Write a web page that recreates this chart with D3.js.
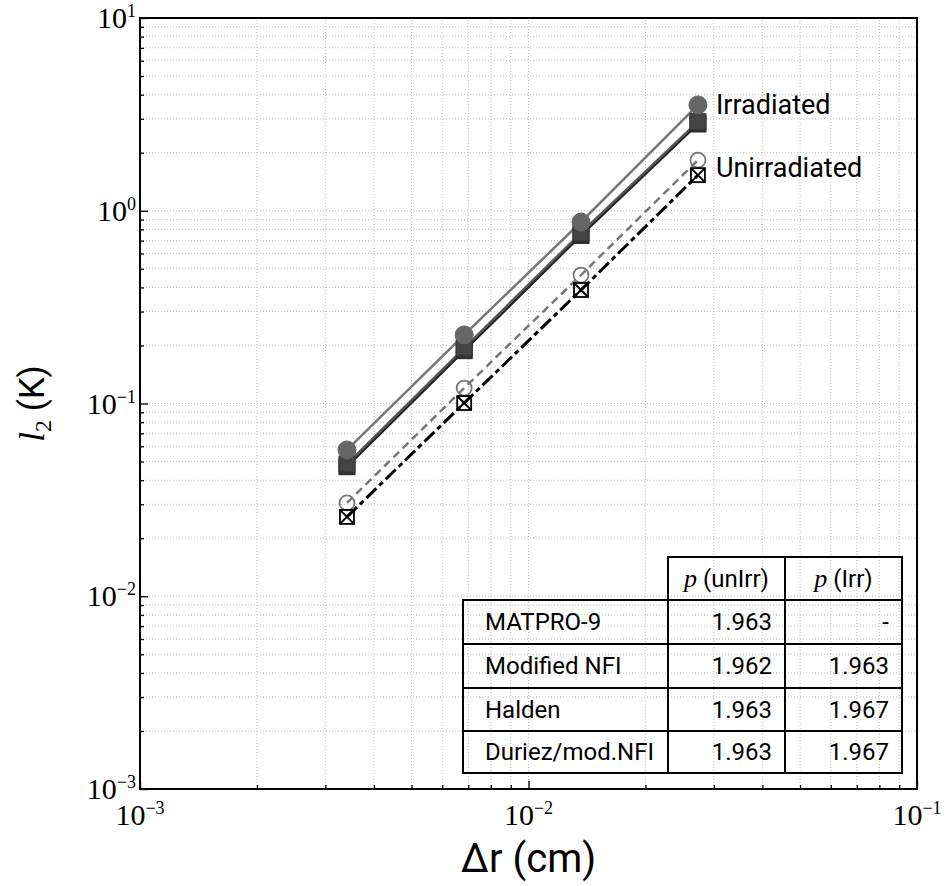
<!DOCTYPE html>
<html>
<head>
<meta charset="utf-8">
<style>
    body { margin: 0; background: #fff; }
    svg { display: block; }
    .tick-label { font-family: 'Liberation Serif', serif; fill: #000; }
    .sans { font-family: Roboto, 'DejaVu Sans', sans-serif; fill: #000; }
</style>
</head>
<body>
<svg width="947" height="886"></svg>
<script src="https://cdnjs.cloudflare.com/ajax/libs/d3/7.8.5/d3.min.js"></script>
<script>
// ---------------- data ----------------
let dr = [0.00341, 0.00683, 0.01365, 0.0273];

// irradiated series
let irrCircle  = [0.0574, 0.227, 0.874, 3.54];
let irrSquareA = [0.0485, 0.194, 0.767, 2.90];
let irrSquareB = [0.0470, 0.188, 0.745, 2.82];

// unirradiated series
let unCircle  = [0.0305, 0.1203, 0.464, 1.83];
let unSquare  = [0.0258, 0.1006, 0.388, 1.53];

let xTicks = [1e-3, 1e-2, 1e-1];
let yTicks = [1e-3, 1e-2, 1e-1, 1e0, 1e1];

let tableModels = ["MATPRO-9", "Modified NFI", "Halden", "Duriez/mod.NFI"];
let pUnirr = ["1.963", "1.962", "1.963", "1.963"];
let pIrr   = ["-", "1.963", "1.967", "1.967"];

let curveLabels = [
    {text: "Irradiated", x: 0.0273, y: 3.54},
    {text: "Unirradiated", x: 0.0273, y: 1.67}
];

// ---------------- setup ----------------
let svg = d3.select("svg");
let margins = {top: 18, right: 30, bottom: 97, left: 140};
let width = 947, height = 886;

let x = d3.scaleLog().domain([1e-3, 1e-1]).range([margins.left, width - margins.right]);
let y = d3.scaleLog().domain([1e-3, 1e1]).range([height - margins.bottom, margins.top]);

let x0 = x.range()[0], x1 = x.range()[1];
let y0 = y.range()[0], y1 = y.range()[1];

// minor tick values (all decades)
function minors(lo, hi) {
    let out = [];
    for (let e = lo; e < hi; e++) {
        for (let m = 1; m < 10; m++) out.push(m * Math.pow(10, e));
    }
    out.push(Math.pow(10, hi));
    return out;
}
let xAll = minors(-3, -1);
let yAll = minors(-3, 1);

// ---------------- grid ----------------
let grid = svg.append("g");
grid.selectAll(".gx").data(xAll.filter(d => d > 1e-3 && d < 1e-1)).join("line")
    .attr("x1", d => x(d)).attr("x2", d => x(d))
    .attr("y1", y0).attr("y2", y1)
    .attr("stroke", "#b0b0b0").attr("stroke-width", 0.8).attr("stroke-dasharray", "1,2");
grid.selectAll(".gy").data(yAll.filter(d => d > 1e-3 && d < 1e1)).join("line")
    .attr("y1", d => y(d)).attr("y2", d => y(d))
    .attr("x1", x0).attr("x2", x1)
    .attr("stroke", "#b0b0b0").attr("stroke-width", 0.8).attr("stroke-dasharray", "1,2");

// ---------------- table ----------------
let tab = svg.append("g");
let colX = [463, 668, 785, 902];
let rowY = [557, 600, 644, 688, 731, 773];
tab.append("rect").attr("x", colX[1]).attr("y", rowY[0]).attr("width", colX[3] - colX[1]).attr("height", rowY[1] - rowY[0])
    .attr("fill", "none").attr("stroke", "#000").attr("stroke-width", 2);
tab.append("line").attr("x1", colX[2]).attr("x2", colX[2]).attr("y1", rowY[0]).attr("y2", rowY[5])
    .attr("stroke", "#000").attr("stroke-width", 2);
tab.append("rect").attr("x", colX[0]).attr("y", rowY[1]).attr("width", colX[3] - colX[0]).attr("height", rowY[5] - rowY[1])
    .attr("fill", "none").attr("stroke", "#000").attr("stroke-width", 2);
tab.append("line").attr("x1", colX[1]).attr("x2", colX[1]).attr("y1", rowY[1]).attr("y2", rowY[5])
    .attr("stroke", "#000").attr("stroke-width", 2);
tab.selectAll(".rowline").data(rowY.slice(2, 5)).join("line")
    .attr("x1", colX[0]).attr("x2", colX[3]).attr("y1", d => d).attr("y2", d => d)
    .attr("stroke", "#000").attr("stroke-width", 2);

let headers = ["unIrr", "Irr"];
headers.forEach(function(h, i) {
    let t = tab.append("text").attr("class", "sans")
        .attr("x", (colX[i + 1] + colX[i + 2]) / 2).attr("y", rowY[0] + 30)
        .attr("text-anchor", "middle").attr("font-size", 24);
    t.append("tspan").attr("font-family", "Liberation Serif").attr("font-style", "italic").attr("font-size", 26).text("p");
    t.append("tspan").text(" (" + h + ")");
});
tableModels.forEach(function(m, i) {
    let yy = (rowY[i + 1] + rowY[i + 2]) / 2 + 8;
    tab.append("text").attr("class", "sans").attr("x", colX[0] + 22).attr("y", yy).attr("font-size", 24).text(m);
    tab.append("text").attr("class", "sans").attr("x", colX[2] - 13).attr("y", yy).attr("font-size", 24)
        .attr("text-anchor", "end").text(pUnirr[i]);
    tab.append("text").attr("class", "sans").attr("x", colX[3] - 13).attr("y", yy).attr("font-size", 24)
        .attr("text-anchor", "end").text(pIrr[i]);
});

// ---------------- lines ----------------
function pts(vals) { return vals.map((v, i) => [dr[i], v]); }
let line = d3.line().x(d => x(d[0])).y(d => y(d[1]));

let series = [
    {vals: unSquare,  stroke: "#000",    width: 3,   dash: "14,4,5,4"},
    {vals: unCircle,  stroke: "#777",    width: 2.5, dash: "8,5"},
    {vals: irrSquareB, stroke: "#222",   width: 2.5, dash: null},
    {vals: irrSquareA, stroke: "#555",   width: 2.5, dash: null},
    {vals: irrCircle, stroke: "#777",    width: 2.5, dash: null}
];
svg.append("g").selectAll("path").data(series).join("path")
    .attr("d", d => line(pts(d.vals)))
    .attr("fill", "none")
    .attr("stroke", d => d.stroke)
    .attr("stroke-width", d => d.width)
    .attr("stroke-dasharray", d => d.dash);

// ---------------- markers ----------------
let mk = svg.append("g");
mk.selectAll(".sqb").data(pts(irrSquareB)).join("rect")
    .attr("x", d => x(d[0]) - 8).attr("y", d => y(d[1]) - 8).attr("width", 16).attr("height", 16)
    .attr("fill", "#333").attr("stroke", "#222").attr("stroke-width", 1);
mk.selectAll(".sqa").data(pts(irrSquareA)).join("rect")
    .attr("x", d => x(d[0]) - 8).attr("y", d => y(d[1]) - 8).attr("width", 16).attr("height", 16)
    .attr("fill", "#444").attr("stroke", "#333").attr("stroke-width", 1);
mk.selectAll(".ci").data(pts(irrCircle)).join("circle")
    .attr("cx", d => x(d[0])).attr("cy", d => y(d[1])).attr("r", 9)
    .attr("fill", "#666").attr("stroke", "#666");
mk.selectAll(".cu").data(pts(unCircle)).join("circle")
    .attr("cx", d => x(d[0])).attr("cy", d => y(d[1])).attr("r", 7.5)
    .attr("fill", "none").attr("stroke", "#777").attr("stroke-width", 1.8);
mk.selectAll(".su").data(pts(unSquare)).join("rect")
    .attr("x", d => x(d[0]) - 7).attr("y", d => y(d[1]) - 7).attr("width", 14).attr("height", 14)
    .attr("fill", "none").attr("stroke", "#000").attr("stroke-width", 1.8);
mk.selectAll(".xu").data(pts(unSquare)).join("path")
    .attr("d", d => {
        let cx = x(d[0]), cy = y(d[1]);
        return `M${cx - 7},${cy - 7}L${cx + 7},${cy + 7}M${cx + 7},${cy - 7}L${cx - 7},${cy + 7}`;
    })
    .attr("stroke", "#000").attr("stroke-width", 2);

// curve labels
svg.append("g").selectAll("text").data(curveLabels).join("text")
    .attr("class", "sans")
    .attr("x", d => x(d.x) + 18).attr("y", d => y(d.y) + 9)
    .attr("font-size", 27)
    .text(d => d.text);

// ---------------- axes ----------------
let xAxis = svg.append("g").attr("transform", `translate(0,${y0})`)
    .call(d3.axisBottom(x).tickValues(xAll).tickSizeInner(-4).tickSizeOuter(0).tickFormat(""));
xAxis.selectAll(".tick line").filter(d => xTicks.includes(d)).attr("y2", -8);
let yAxis = svg.append("g").attr("transform", `translate(${x0},0)`)
    .call(d3.axisLeft(y).tickValues(yAll).tickSizeInner(-4).tickSizeOuter(0).tickFormat(""));
yAxis.selectAll(".tick line").filter(d => yTicks.includes(d)).attr("x2", 8);
svg.selectAll(".domain").remove();
svg.selectAll(".tick line").attr("stroke", "#000").attr("stroke-width", 1.3);

// frame
svg.append("rect").attr("x", x0).attr("y", y1).attr("width", x1 - x0).attr("height", y0 - y1)
    .attr("fill", "none").attr("stroke", "#000").attr("stroke-width", 2);

// tick labels
function expLabel(sel, e) {
    sel.append("tspan").text("10");
    sel.append("tspan").attr("font-size", 18).attr("dy", -11).text(e < 0 ? "\u2212" + (-e) : e);
}
xTicks.forEach(function(t) {
    let e = Math.round(Math.log10(t));
    let txt = svg.append("text").attr("class", "tick-label").attr("font-size", 30)
        .attr("x", x(t)).attr("y", y0 + 36).attr("text-anchor", "middle");
    expLabel(txt, e);
});
yTicks.forEach(function(t) {
    let e = Math.round(Math.log10(t));
    let txt = svg.append("text").attr("class", "tick-label").attr("font-size", 30)
        .attr("x", x0 - 4).attr("y", y(t) + 10).attr("text-anchor", "end");
    expLabel(txt, e);
});

// axis titles
svg.append("text").attr("class", "sans").attr("font-size", 40)
    .attr("x", (x0 + x1) / 2).attr("y", 872).attr("text-anchor", "middle")
    .text("\u0394r (cm)");
let yl = svg.append("text").attr("class", "sans").attr("font-size", 35)
    .attr("transform", `translate(44,${(y0 + y1) / 2}) rotate(-90)`).attr("text-anchor", "middle");
yl.append("tspan").attr("font-family", "Liberation Serif").attr("font-style", "italic").text("l");
yl.append("tspan").attr("font-family", "Liberation Serif").attr("font-size", 24).attr("dy", 7).text("2");
yl.append("tspan").attr("dy", -7).text(" (K)");
</script>
</body>
</html>
